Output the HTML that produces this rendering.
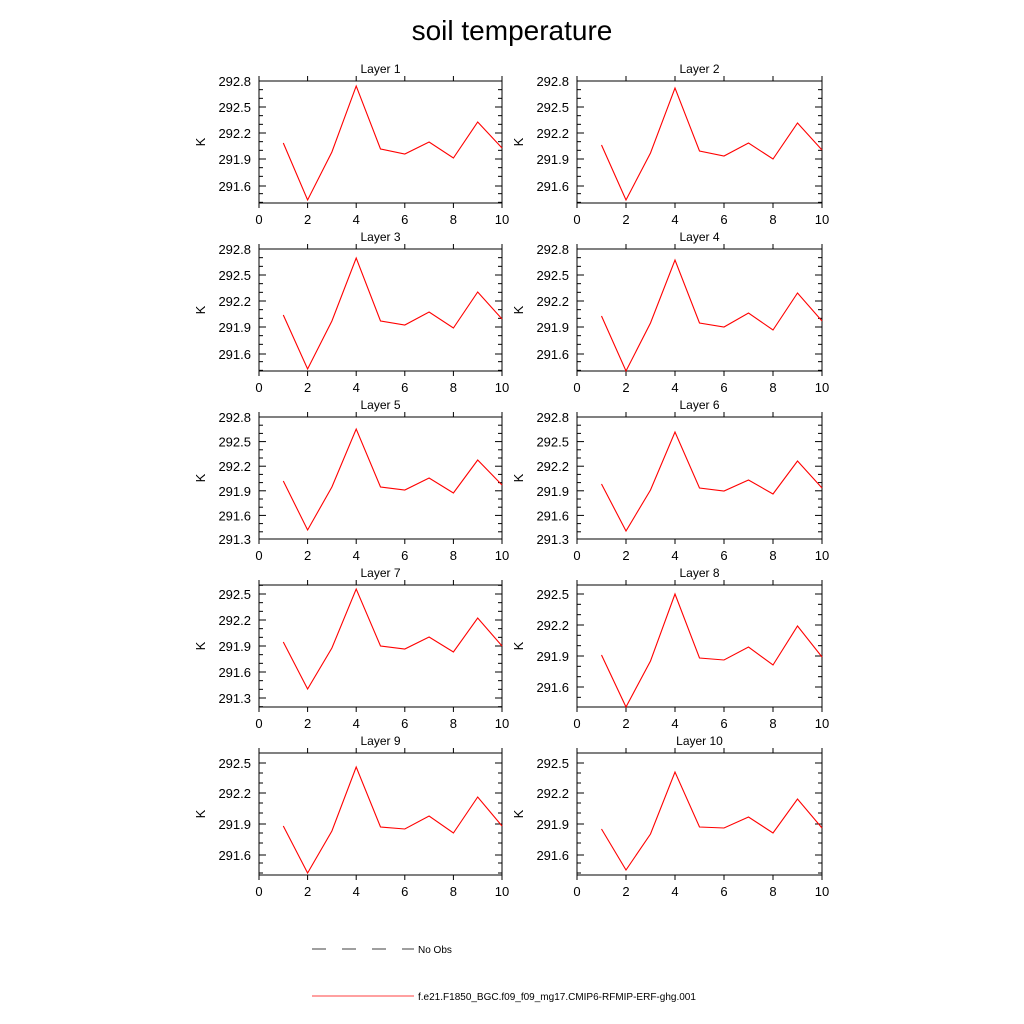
<!DOCTYPE html>
<html><head><meta charset="utf-8"><style>
html,body{margin:0;padding:0;background:#fff;}
svg{display:block;font-family:"Liberation Sans",sans-serif;}
</style></head><body>
<svg id="s" width="1024" height="1024" xmlns="http://www.w3.org/2000/svg">
<text x="512" y="40" font-size="28" text-anchor="middle">soil temperature</text>
<line x1="312" y1="949" x2="414" y2="949" stroke="#000" stroke-width="0.8" stroke-dasharray="14,16"/>
<text x="418" y="953" font-size="10">No Obs</text>
<line x1="312" y1="996" x2="414" y2="996" stroke="#f00" stroke-width="0.8"/>
<text x="418" y="1000" font-size="10">f.e21.F1850_BGC.f09_f09_mg17.CMIP6-RFMIP-ERF-ghg.001</text>
</svg>
<script>
var s=document.getElementById('s');
function el(t,a,txt){var e=document.createElementNS('http://www.w3.org/2000/svg',t);for(var k in a)e.setAttribute(k,a[k]);if(txt)e.textContent=txt;s.appendChild(e);return e;}
var P=[
{x:259,t:81,ticks:[["292.8",81],["292.5",107],["292.2",133],["291.9",159],["291.6",186]],d:[143,200,152,86,149,154,142,158,122,148]},
{x:577,t:81,ticks:[["292.8",81],["292.5",107],["292.2",133],["291.9",159],["291.6",186]],d:[145,200,153,88,151,156,143,159,123,150]},
{x:259,t:249,ticks:[["292.8",249],["292.5",275],["292.2",301],["291.9",327],["291.6",354]],d:[315,369,321,258,321,325,312,328,292,319]},
{x:577,t:249,ticks:[["292.8",249],["292.5",275],["292.2",301],["291.9",327],["291.6",354]],d:[316,371,323,260,323,327,313,330,293,321]},
{x:259,t:417,ticks:[["292.8",417],["292.5",441.6],["292.2",466.2],["291.9",490.8],["291.6",515.4],["291.3",539]],d:[481,530,487,429,487,490,478,493,460,485]},
{x:577,t:417,ticks:[["292.8",417],["292.5",441.6],["292.2",466.2],["291.9",490.8],["291.6",515.4],["291.3",539]],d:[484,531,490,432,488,491,480,494,461,488]},
{x:259,t:585,ticks:[["292.5",594],["292.2",620],["291.9",646],["291.6",672],["291.3",698]],d:[642,689,648,589,646,649,637,652,618,646]},
{x:577,t:585,ticks:[["292.5",594],["292.2",625],["291.9",656],["291.6",687]],d:[655,707,661,594,658,660,647,665,626,657]},
{x:259,t:753,ticks:[["292.5",763],["292.2",793],["291.9",824],["291.6",855]],d:[826,873,831,767,827,829,816,833,797,826]},
{x:577,t:753,ticks:[["292.5",763],["292.2",793],["291.9",824],["291.6",855]],d:[829,870,834,772,827,828,817,833,799,828]}
];
P.forEach(function(p,i){
 var x0=p.x,w=(i%2?245:243),x1=x0+w,t=p.t,b=t+122;
 el('text',{x:x0+w/2,y:t-8,'font-size':12,'text-anchor':'middle'},'Layer '+(i+1));
 el('rect',{x:x0,y:t,width:w,height:b-t,fill:'none',stroke:'#000','stroke-width':1});
 for(var k=0;k<=5;k++){var xx=x0+w*k/5;
  el('line',{x1:xx,y1:t,x2:xx,y2:t-5,stroke:'#000'});
  el('line',{x1:xx,y1:b,x2:xx,y2:b+5,stroke:'#000'});
  el('text',{x:xx,y:b+21,'font-size':13,'text-anchor':'middle'},String(2*k));}
 var sp=p.ticks[1][1]-p.ticks[0][1];
 p.ticks.forEach(function(tk){var y=tk[1];
  el('line',{x1:x0,y1:y,x2:x0+7,y2:y,stroke:'#000'});
  el('line',{x1:x1,y1:y,x2:x1-7,y2:y,stroke:'#000'});
  el('text',{x:x0-8,y:y+5,'font-size':13,'text-anchor':'end'},tk[0]);});
 var y0=p.ticks[0][1];
 for(var m=-12;m<30;m++){var y=y0+m*sp/3;if(m%3==0||y<t-0.5||y>b+0.5)continue;
  el('line',{x1:x0,y1:y,x2:x0+4,y2:y,stroke:'#000'});
  el('line',{x1:x1,y1:y,x2:x1-4,y2:y,stroke:'#000'});}
 var ky=(t+b)/2;
 el('text',{x:x0-58,y:ky,'font-size':13,'text-anchor':'middle',transform:'rotate(-90 '+(x0-58)+' '+ky+')',dy:'4'},'K');
 var pts=p.d.map(function(v,j){return (x0+w*(j+1)/10).toFixed(1)+','+v;}).join(' ');
 el('polyline',{points:pts,fill:'none',stroke:'#f00','stroke-width':1.1});
});
</script>
</body></html>
